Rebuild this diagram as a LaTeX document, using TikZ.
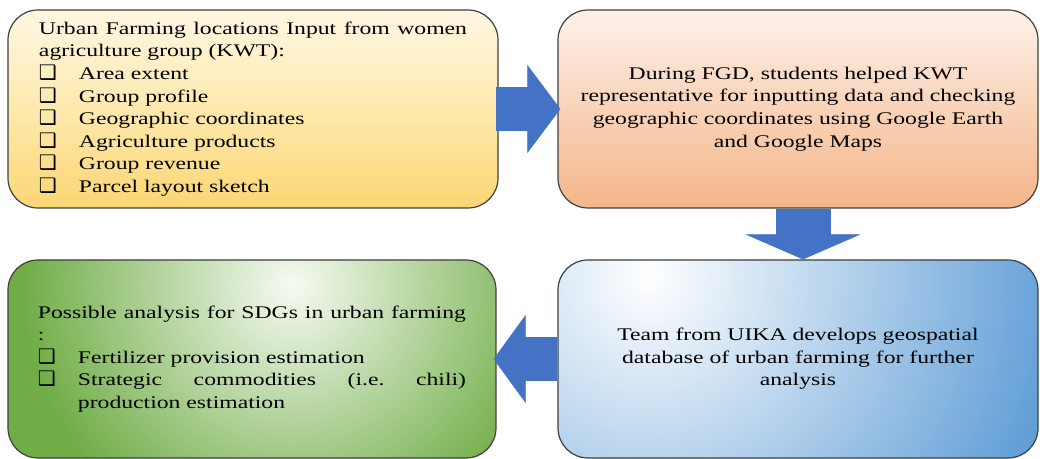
\documentclass[tikz,border=0pt]{standalone}
\usepackage{fontspec}
\setmainfont{Liberation Serif}[FakeStretch=1.33]
\newfontfamily\boxsym{DejaVu Sans}
\usetikzlibrary{arrows.meta,calc}
\setlength{\parindent}{0pt}
\hyphenpenalty=10000
\definecolor{arrowblue}{HTML}{4472C4}
\definecolor{yellowtop}{HTML}{FFF7E3}
\definecolor{yellowmid}{HTML}{FEE9AE}
\definecolor{yellowbot}{HTML}{FAD674}
\definecolor{peachtop}{HTML}{FDF1EA}
\definecolor{peachmid}{HTML}{F9D3B8}
\definecolor{peachbot}{HTML}{F4B68A}
\definecolor{greenedge}{HTML}{70AD47}
\definecolor{greenlight}{HTML}{F6FAF2}
\definecolor{blueedge}{HTML}{5B9BD5}
\newcommand{\chkitem}[1]{\par\hangindent=40bp\hangafter=1\noindent\makebox[40bp][l]{\boxsym\fontsize{20bp}{20bp}\selectfont ❑}#1\par}

\begin{document}
\begin{tikzpicture}[x=1bp,y=-1bp,
	flowbox/.style={draw=black!75,line width=1.2bp,rounded corners=30bp,minimum height=198bp,inner sep=0pt,
		font=\fontsize{17.8bp}{22.6bp}\selectfont\frenchspacing},
	listbox/.style={flowbox,minimum width=490bp,text width=428bp,align=justify},
	textbox/.style={flowbox,minimum width=480bp,text width=460bp,align=center},
	bigarrow/.style={arrowblue,line width=#1},
	radialfill/.style n args={4}{path picture={
		\fill[#1] (path picture bounding box.south west) rectangle (path picture bounding box.north east);
		\shade[inner color=#2,outer color=#1] ($(path picture bounding box.north)+(#3)$) circle (#4);}}]
\useasboundingbox (0,0) rectangle (1040,459);
\node (kwt) [listbox,top color=yellowtop,bottom color=yellowbot,middle color=yellowmid] at (253,109) {%
	Urban Farming locations Input from women agriculture group (KWT):
	\chkitem{Area extent}
	\chkitem{Group profile}
	\chkitem{Geographic coordinates}
	\chkitem{Agriculture products}
	\chkitem{Group revenue}
	\chkitem{Parcel layout sketch}};
\node (fgd) [textbox,top color=peachtop,bottom color=peachbot,middle color=peachmid] at (798,109) {%
	During FGD, students helped KWT\\ representative for inputting data and checking\\
	geographic coordinates using Google Earth\\ and Google Maps};
\node (uika) [textbox,radialfill={blueedge}{white}{-150,15}{430bp}] at (798,359) {%
	Team from UIKA develops geospatial\\ database of urban farming for further\\ analysis};
\node (sdg) [listbox,minimum width=488bp,radialfill={greenedge}{greenlight}{40,25}{270bp}] at (252,359) {%
	Possible analysis for SDGs in urban farming\linebreak :
	\chkitem{Fertilizer provision estimation}
	\chkitem{Strategic commodities (i.e. chili) production estimation}};
\draw[bigarrow=44bp,-{Triangle[length=33bp,width=88bp,line width=0.5bp]}] ([xshift=-3bp]kwt.east) -- ([xshift=3bp]fgd.west);
\draw[bigarrow=55bp,-{Triangle[length=25bp,width=115bp,line width=0.5bp]}] ([xshift=5bp]fgd.south) -- ([xshift=5bp]uika.north);
\draw[bigarrow=44bp,-{Triangle[length=32bp,width=88bp,line width=0.5bp]}] (uika.west) -- ([xshift=-3bp]sdg.east);
\end{tikzpicture}
\end{document}
